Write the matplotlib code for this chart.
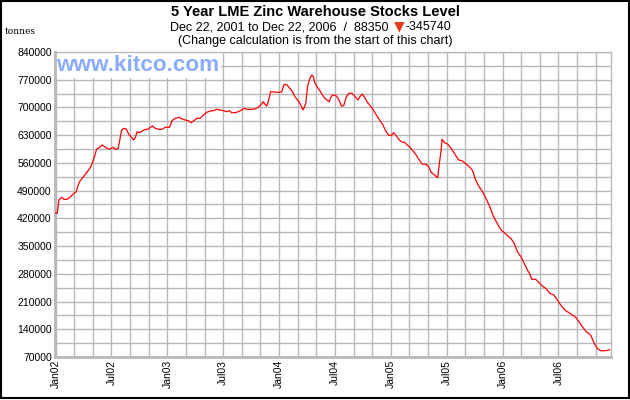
import numpy as np
import matplotlib
matplotlib.use("Agg")
import matplotlib.pyplot as plt
from matplotlib.patches import Rectangle

plt.rcParams['font.family'] = ['Liberation Sans', 'DejaVu Sans']

##
#    Data: time in decimal years, stocks in tonnes
##
years = [2001.997, 2002.015, 2002.029, 2002.054, 2002.074, 2002.104, 2002.134, 2002.163,
         2002.185, 2002.199, 2002.214, 2002.238, 2002.261, 2002.283, 2002.306, 2002.327,
         2002.348, 2002.366, 2002.393, 2002.417, 2002.440, 2002.461, 2002.482, 2002.511,
         2002.535, 2002.559, 2002.574, 2002.589, 2002.609, 2002.633, 2002.654, 2002.678,
         2002.698, 2002.714, 2002.729, 2002.749, 2002.773, 2002.803, 2002.827, 2002.847,
         2002.868, 2002.892, 2002.921, 2002.952, 2002.981, 2003.020, 2003.041, 2003.070,
         2003.109, 2003.115, 2003.160, 2003.189, 2003.211, 2003.234, 2003.264, 2003.293,
         2003.323, 2003.353, 2003.383, 2003.412, 2003.442, 2003.472, 2003.501, 2003.532,
         2003.555, 2003.576, 2003.606, 2003.635, 2003.665, 2003.686, 2003.715, 2003.746,
         2003.775, 2003.814, 2003.835, 2003.858, 2003.873, 2003.889, 2003.903, 2003.924,
         2003.954, 2003.992, 2004.022, 2004.045, 2004.072, 2004.096, 2004.120, 2004.141,
         2004.165, 2004.186, 2004.215, 2004.239, 2004.254, 2004.275, 2004.293, 2004.304,
         2004.319, 2004.340, 2004.364, 2004.388, 2004.409, 2004.429, 2004.447, 2004.468,
         2004.489, 2004.513, 2004.536, 2004.558, 2004.578, 2004.602, 2004.625, 2004.652,
         2004.676, 2004.706, 2004.727, 2004.745, 2004.765, 2004.786, 2004.810, 2004.839,
         2004.870, 2004.899, 2004.929, 2004.953, 2004.979, 2005.004, 2005.024, 2005.048,
         2005.071, 2005.093, 2005.122, 2005.146, 2005.167, 2005.196, 2005.227, 2005.250,
         2005.280, 2005.316, 2005.339, 2005.360, 2005.390, 2005.419, 2005.434, 2005.449,
         2005.458, 2005.479, 2005.508, 2005.539, 2005.568, 2005.607, 2005.637, 2005.666,
         2005.702, 2005.732, 2005.756, 2005.785, 2005.815, 2005.851, 2005.887, 2005.916,
         2005.955, 2005.985, 2006.014, 2006.044, 2006.074, 2006.103, 2006.133, 2006.163,
         2006.193, 2006.222, 2006.244, 2006.261, 2006.297, 2006.327, 2006.356, 2006.386,
         2006.422, 2006.460, 2006.490, 2006.520, 2006.565, 2006.594, 2006.624, 2006.654,
         2006.683, 2006.713, 2006.749, 2006.788, 2006.817, 2006.847, 2006.877, 2006.922,
         2006.957]
stocks = [434090, 432700, 466300, 473100, 468100, 468100, 474700, 483200,
          487300, 501700, 512500, 521100, 529400, 537800, 546300, 558900,
          575700, 594300, 599400, 605200, 600900, 596800, 594300, 599400,
          594300, 595900, 617800, 641300, 647300, 645600, 632200, 624600,
          617800, 624600, 638800, 636300, 639800, 644800, 644800, 649900,
          653200, 647300, 644800, 644800, 649900, 649900, 666500, 672600,
          675100, 672600, 668300, 666500, 661500, 665700, 672600, 672600,
          680900, 687700, 691000, 691800, 695300, 693600, 691800, 689300,
          691800, 686700, 686700, 689300, 693600, 697800, 695300, 695300,
          695300, 700400, 706200, 714500, 708000, 703700, 714500, 739800,
          739000, 738200, 739000, 758400, 756700, 748300, 739800, 727100,
          718800, 710500, 693600, 710500, 752400, 773600, 781900, 779400,
          762500, 752400, 742300, 731400, 723100, 718800, 714500, 728900,
          731400, 728900, 718800, 703700, 704500, 727100, 735700, 735700,
          728900, 718800, 728900, 734000, 725600, 714500, 706200, 695300,
          680900, 668300, 655700, 641300, 630400, 628700, 636300, 628700,
          619600, 613500, 612000, 605200, 600900, 590800, 579900, 569100,
          557200, 556400, 550400, 536300, 529400, 522600, 558900, 590000,
          619600, 611200, 607700, 596800, 584200, 567300, 565500, 558900,
          550400, 540300, 518600, 501700, 489800, 470600, 447900, 425900,
          405700, 390600, 384700, 375400, 369600, 357000, 335800, 323300,
          306500, 289500, 279500, 266100, 266100, 257600, 249200, 243300,
          230700, 226400, 213800, 201200, 186800, 181800, 176000, 170200,
          159100, 146400, 133800, 125400, 106000, 91800, 85800, 85800,
          88350]

tick_years = [2002.0, 2002.5, 2003.0, 2003.5, 2004.0, 2004.5, 2005.0, 2005.5, 2006.0, 2006.5]
tick_labels = ["Jan02", "Jul02", "Jan03", "Jul03", "Jan04", "Jul04",
               "Jan05", "Jul05", "Jan06", "Jul06"]
y_ticks = list(range(70000, 840001, 70000))

##
#    Figure and axes
##
fig = plt.figure(figsize=(6.3, 4.0), dpi=100)
fig.patch.set_facecolor('white')
ax = fig.add_axes([54.5 / 630, 1 - 357 / 400, (611 - 54.5) / 630, (357 - 52) / 400])

ax.plot(years, stocks, color='#ff0000', linewidth=0.9, zorder=3)

ax.set_xlim(2001.99, 2006.97)
ax.set_ylim(70000, 840000)

ax.set_yticks(y_ticks)
ax.set_yticklabels([str(v) for v in y_ticks], fontsize=7.5)
ax.set_yticks(list(range(105000, 840000, 70000)), minor=True)
ax.set_xticks(tick_years)
ax.set_xticklabels(tick_labels, rotation=90, fontsize=7.5, va='top', ha='center')
ax.set_xticks([2002 + k / 6 for k in range(30)], minor=True)

ax.grid(True, which='both', color='#b8b8b8', linewidth=1.0, zorder=0)
ax.tick_params(which='both', length=0, pad=2)
for s in ax.spines.values():
    s.set_color('#b8b8b8')
    s.set_linewidth(1.0)
ax.spines['left'].set_linewidth(2.0)
ax.spines['bottom'].set_linewidth(2.0)

##
#    Watermark
##
ax.text(0.003, 0.99, "www.kitco.com", transform=ax.transAxes, fontsize=16.2,
        color='#88aaff', fontweight='bold', ha='left', va='top',
        bbox=dict(facecolor='white', edgecolor='none', pad=1.5), zorder=2)

##
#    Titles
##
fig.text(0.5, 1 - 12 / 400, "5 Year LME Zinc Warehouse Stocks Level", ha='center', va='center',
         fontsize=10.5, fontweight='bold')
fig.text(389 / 630, 1 - 27 / 400, "Dec 22, 2001 to Dec 22, 2006  /  88350", ha='right',
         va='center', fontsize=9)
fig.text(399 / 630, 1 - 26.5 / 400, "\u25bc", ha='center', va='center', fontsize=10,
         color='#e0401e', family=['DejaVu Sans'])
fig.text(406 / 630, 1 - 27 / 400, "-345740", ha='left', va='center', fontsize=9)
fig.text(0.5, 1 - 41 / 400, "(Change calculation is from the start of this chart)",
         ha='center', va='center', fontsize=9)
fig.text(5 / 630, 1 - 31 / 400, "tonnes", ha='left', va='center', fontsize=6.5,
         family=['DejaVu Serif'])

fig.patches.append(Rectangle((0.5 / 630, 2.5 / 400), 628 / 630, 397 / 400, fill=False,
                             edgecolor='black', linewidth=1.5, transform=fig.transFigure))

fig.savefig("out.png", dpi=100, facecolor='white')
